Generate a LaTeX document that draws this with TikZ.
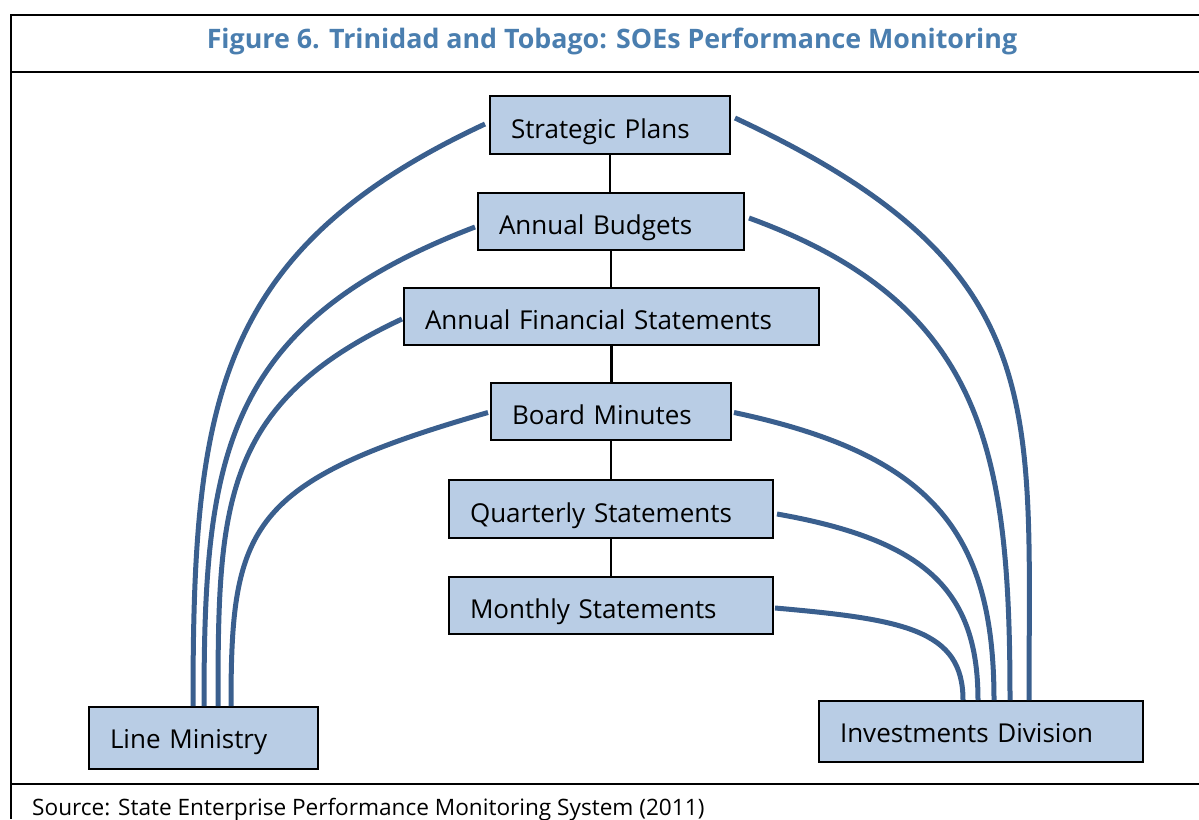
\documentclass[tikz,border=0pt]{standalone}
\usepackage{fontspec}
\setmainfont{Open Sans}

\definecolor{docblue}{HTML}{B9CDE5}
\definecolor{linkblue}{HTML}{3A5F8E}
\definecolor{titleblue}{HTML}{4A7EAF}

\tikzset{
  doc/.style={draw=black, line width=2pt, fill=docblue, anchor=north west,
    inner xsep=21pt, inner ysep=0pt, align=left,
    text height=26pt, text depth=0pt, font=\fontsize{26}{30}\selectfont},
  stem/.style={draw=black, line width=2.5pt},
  link/.style={draw=linkblue, line width=5pt},
  rule/.style={line width=2.5pt}
}

\begin{document}
\begin{tikzpicture}[x=1pt,y=1pt]
  \clip (0,0) rectangle (1199,-819);

  % frame and rules
  \draw[rule] (1199,-15) -- (11,-15) -- (11,-819);
  \draw[rule] (11,-72) -- (1199,-72);
  \draw[rule] (11,-784) -- (1199,-784);

  \node[font=\fontsize{26.8}{30}\selectfont\bfseries, text=titleblue, anchor=base] (title)
    at (612,-48) {Figure 6. Trinidad and Tobago: SOEs Performance Monitoring};
  \node[font=\fontsize{22.6}{26}\selectfont, anchor=base west, inner sep=0pt] (source)
    at (32,-815) {Source: State Enterprise Performance Monitoring System (2011)};

  %%%%  reporting chain
  \node[doc, minimum width=240pt, minimum height=58pt, text width=198pt] (strat)   at (489,-95)  {Strategic Plans};
  \node[doc, minimum width=266pt, minimum height=57pt, text width=224pt] (budget)  at (477,-192) {Annual Budgets};
  \node[doc, minimum width=415pt, minimum height=57pt, text width=373pt] (afs)     at (403,-287) {Annual Financial Statements};
  \node[doc, minimum width=240pt, minimum height=57pt, text width=198pt] (board)   at (490,-382) {Board Minutes};
  \node[doc, minimum width=324pt, minimum height=58pt, text width=282pt] (quarter) at (448,-479) {Quarterly Statements};
  \node[doc, minimum width=324pt, minimum height=57pt, text width=282pt] (monthly) at (448,-576) {Monthly Statements};

  \node[doc, text height=21pt, minimum width=229pt, minimum height=62pt, text width=187pt] (ministry) at (88,-706)  {Line Ministry};
  \node[doc, text height=21pt, minimum width=324pt, minimum height=61pt, text width=282pt] (invest)   at (818,-700) {Investments Division};

  \foreach \a/\b in {strat/budget, budget/afs, afs/board, board/quarter, quarter/monthly}
    \draw[stem] (\a.south) -- (\a.south |- \b.north);

  %%%%  to the line ministry
  \foreach \src/\sx/\sy/\ang/\da/\db/\ex in
    {strat/-4/1/205/300/300/-10.5, budget/-2/-5.5/201/270/250/0.5,
     afs/-1/-2.5/205/200/200/14.5, board/-2/-1/196/250/180/27.5}
    \draw[link] ([shift={(\sx,\sy)}]\src.west)
      to[out=\ang, in=90, out distance=\da pt, in distance=\db pt] ([xshift=\ex pt]ministry.north);

  %%%%  to the investments division
  \foreach \src/\sx/\sy/\ang/\da/\db/\ex in
    {strat/4/7/335/350/300/48, budget/4/3.5/340/250/250/29,
     board/2/-1/348/200/170/13, quarter/3/-5/350/150/110/-3,
     monthly/1/-2.5/355/130/70/-18}
    \draw[link] ([shift={(\sx,\sy)}]\src.east)
      to[out=\ang, in=90, out distance=\da pt, in distance=\db pt] ([xshift=\ex pt]invest.north);
\end{tikzpicture}
\end{document}
